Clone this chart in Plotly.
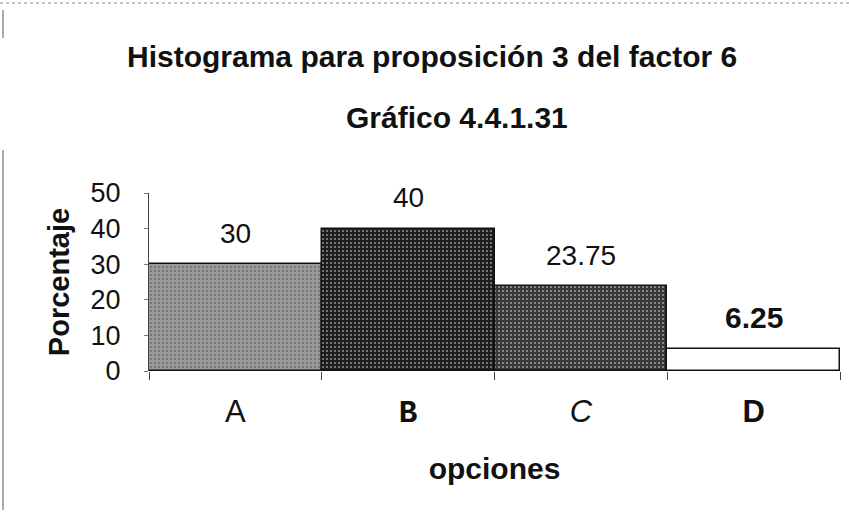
import plotly.graph_objects as go

# ── Data ──────────────────────────────────────────────────────────────────────
categories = ["A", "B", "C", "D"]
tick_labels = ["A", '<span style="font-family:Liberation Mono, Courier New, monospace">'
               '<b>B</b></span>', "<i>C</i>", "<b>D</b>"]
percentages = [30, 40, 23.75, 6.25]
bar_colors = ["#999999", "#1e1e1e", "#383838", "#ffffff"]
dot_colors = ["#d4d4d4", "#707070", "#9a9a9a", "#ffffff"]
dot_shapes = [".", ".", ".", ""]

FONT = "Liberation Sans Narrow, Liberation Sans, Arial"
BLACK = "#111111"

# plot area in pixels (for placing the free-floating titles)
L, R, T, B = 149, 9, 193, 141
PH = 512 - T - B
PW = 849 - L - R


def px_x(x):
    return (x - L) / PW


def px_y(y):
    return (512 - B - y) / PH


fig = go.Figure(go.Bar(
    x=categories, y=percentages,
    marker=dict(
        color=bar_colors,
        line=dict(color=BLACK, width=1.5),
        pattern=dict(shape=dot_shapes, fgcolor=dot_colors, size=4, solidity=0.2),
    ),
    hoverinfo="skip",
))

# value labels above bars (last one bold as in the original)
for i, (c, v) in enumerate(zip(categories, percentages)):
    txt = f"{v:g}"
    size = 28
    if i == len(categories) - 1:
        txt, size = f"<b>{txt}</b>", 30
    fig.add_annotation(x=c, y=v, text=txt, showarrow=False, yshift=31,
                       xanchor="center", yanchor="middle",
                       font=dict(family="Liberation Sans", size=size, color=BLACK))

# titles
fig.add_annotation(xref="paper", yref="paper", x=px_x(432), y=px_y(57),
                   xanchor="center", yanchor="middle",
                   text="<b>Histograma para proposición 3 del factor 6</b>",
                   showarrow=False, font=dict(family=FONT, size=30, color=BLACK))
fig.add_annotation(xref="paper", yref="paper", x=px_x(457), y=px_y(117),
                   xanchor="center", yanchor="middle",
                   text="<b>Gráfico 4.4.1.31</b>",
                   showarrow=False, font=dict(family=FONT, size=30, color=BLACK))

# scan border remnants
fig.add_shape(type="line", xref="paper", yref="paper", x0=px_x(3), x1=px_x(3),
              y0=px_y(150), y1=px_y(510), line=dict(color="#555", width=1))
fig.add_shape(type="line", xref="paper", yref="paper", x0=px_x(3), x1=px_x(3),
              y0=px_y(10), y1=px_y(38), line=dict(color="#555", width=1))
fig.add_shape(type="line", xref="paper", yref="paper", x0=px_x(0), x1=px_x(849),
              y0=px_y(3), y1=px_y(3), line=dict(color="#888", width=1, dash="dot"))

fig.update_layout(
    width=849, height=512,
    margin=dict(l=L, r=R, t=T, b=B),
    paper_bgcolor="white", plot_bgcolor="white",
    bargap=0, showlegend=False,
    font=dict(family="Liberation Sans", color=BLACK),
    xaxis=dict(
        type="category", tickmode="array", tickvals=categories, ticktext=tick_labels,
        tickson="boundaries", ticks="outside", ticklen=8, tickcolor="#444",
        showline=False, showgrid=False, ticklabelstandoff=19,
        tickfont=dict(family="Liberation Sans", size=31),
        title=dict(text="<b>opciones</b>", font=dict(family=FONT, size=30), standoff=27),
    ),
    yaxis=dict(
        range=[0, 50], dtick=10, ticks="outside", ticklen=4, tickcolor="#777",
        showline=True, linecolor="#444", linewidth=1, showgrid=False, zeroline=False,
        tickfont=dict(family="Liberation Sans", size=27), ticklabelstandoff=18,
        title=dict(text="<b>Porcentaje</b>", font=dict(family=FONT, size=29), standoff=12),
    ),
)

fig.write_html("out.html", config={"displayModeBar": False},
               post_script="document.body.style.margin='0';")
